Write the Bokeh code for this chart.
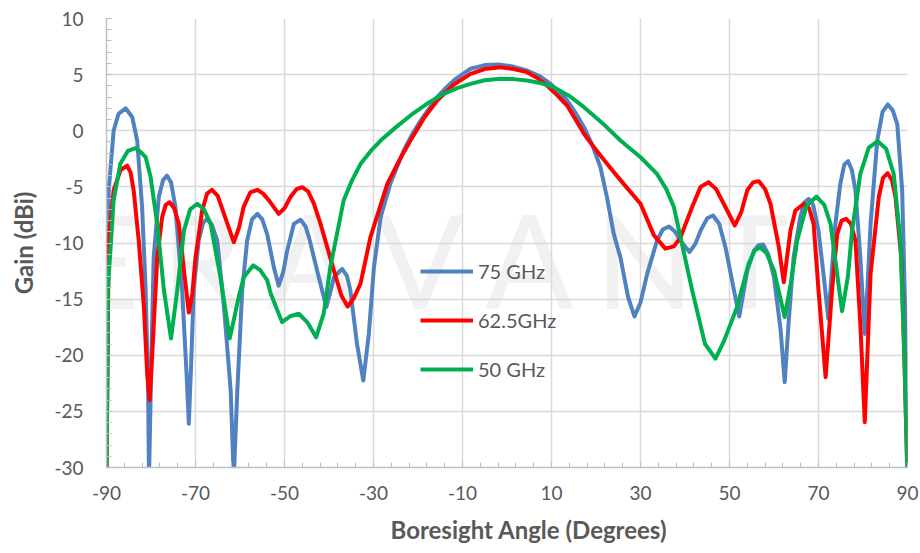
from bokeh.plotting import figure
from bokeh.models import Range1d, FixedTicker, Legend, LegendItem, Label, Title
from bokeh.embed import file_html
from bokeh.resources import INLINE

# ---- data ----
angle_75 = [-90, -89.7, -89.5, -88.4, -87.3, -85.7, -84.2, -83.1, -82.0, -81.2, -80.65, -80.45,
            -79.9, -79.4, -78.25, -77.3, -76.4, -75.5, -74.5, -73.0, -72.0, -71.5, -71.0, -70.4,
            -69.3, -68.3, -67.4, -66.3, -65.1, -63.6, -62.1, -61.4, -60.6, -59.5, -58.4, -57.3,
            -56.1, -55.0, -53.9, -52.4, -51.3, -50.3, -49.4, -47.9, -46.4, -45.3, -44.5, -42.3,
            -40.6, -39.6, -38.9, -37.05, -36.0, -35.2, -33.7, -32.3, -31.05, -29.9, -28.4, -26.2,
            -23.2, -21.3, -19.4, -17.5, -15.7, -13.8, -11.95, -10.0, -8.2, -5.0, -2.0, 1.0, 4.5,
            7.2, 9.8, 11.6, 13.5, 15.4, 17.3, 19.2, 21.0, 22.5, 24.0,
            25.5, 27.2, 28.65, 30.0, 31.5, 33.7, 35.0, 36.4, 37.8, 39.0, 41.0, 42.3, 43.5, 45.0,
            46.3, 47.7, 49.1, 51.0, 52.2, 53.1, 54.0, 55.5, 56.5, 57.55, 58.7, 60.0, 61.5, 62.4,
            63.3, 64.4, 65.9, 66.8, 67.8, 68.8, 70.0, 71.2, 72.2, 73.0, 73.8, 74.9, 75.8, 76.65,
            77.5, 78.3, 79.4, 80.4, 81.0, 81.7, 83.2, 84.4, 85.6, 86.7, 87.7, 88.8, 89.55, 90]
gain_75 = [-31, -17, -5.3, 0.0, 1.5, 2.0, 1.2, -0.9, -6.8, -14.2, -23.1, -31,
           -20, -11.3, -5.9, -4.4, -4.0, -4.6, -6.8, -14.2, -21.7, -26.1, -21, -14.2,
           -9.8, -8.2, -7.85, -8.4, -9.8, -15.7, -23.1, -31, -23.1, -14.2, -9.8, -7.9,
           -7.4, -7.9, -9.2, -12.15, -13.8, -12.6, -10.7, -8.3, -7.93, -8.5, -9.5, -13.05,
           -15.7, -14.2, -13.05, -12.3, -12.9, -14.2, -19.0, -22.25, -18.1, -12.15, -7.7, -4.7,
           -1.76, -0.3, 0.9, 2.0, 2.99, 3.8, 4.48, 5.05, 5.52, 5.85, 5.9, 5.75, 5.37,
           4.9, 4.18, 3.5, 2.7, 1.6, 0.32, -1.3, -3.25, -6.0, -9.2,
           -11.3, -14.8, -16.55, -15.3, -12.75, -9.8, -8.8, -8.53, -9.0, -9.8, -10.8, -10.1, -8.9, -7.8,
           -7.55, -8.3, -10.4, -14.2, -16.55, -14.5, -12.45, -10.7, -10.2, -10.13, -11.0, -13.05, -17.8, -22.4,
           -17, -11.3, -7.7, -6.4, -6.07, -6.6, -8.9, -13.05, -16.75, -12.5, -8.3, -4.73, -3.0, -2.71,
           -3.5, -5.3, -11.3, -18.1, -14, -8.3, -0.87, 1.7, 2.34, 1.8, 0.6, -5.3, -17.2, -31]

angle_62 = [-90, -89.7, -89.5, -88.4, -86.85, -85.35, -84.6, -83.9, -82.75, -81.6, -80.85, -80.3,
            -79.75, -78.6, -77.5, -76.7, -75.8, -74.8, -73.75, -72.5, -71.5, -70.7, -70.0, -68.5,
            -67.4, -66.3, -65.0, -63.6, -61.4, -60.2, -59.2, -57.7, -56.1, -54.8, -53.5, -51.3,
            -50.0, -48.65, -47.3, -46.05, -44.7, -43.4, -41.9, -38.9, -37.2, -35.8, -34.4, -32.9,
            -30.7, -26.9, -24.3, -21.7, -18.7, -15.7, -12.0, -8.2, -5.0, -1.5, 1.5, 4.5, 6.8, 9.0,
            11.2, 13.5, 15.4, 17.3, 19.2, 21.0, 23.2, 25.5,
            30.0, 33.0, 35.6, 37.5, 39.0, 41.6, 43.5, 45.3, 47.0, 48.7, 51.2, 52.6, 54.0, 55.3,
            56.6, 58.0, 59.2, 61.1, 62.2, 63.7, 64.8, 66.7, 67.9, 68.9, 70.0, 71.6, 73.05, 74.2,
            75.2, 76.2, 77.3, 78.3, 79.4, 80.4, 81.7, 83.55, 84.5, 85.55, 86.5, 87.3, 88.6, 89.3, 90]
gain_62 = [-31, -17.2, -9.8, -5.3, -3.5, -3.1, -3.7, -5.3, -9.8, -15.7, -21.65, -24.0,
           -20.2, -11.3, -7.7, -6.6, -6.37, -6.9, -8.3, -12.75, -16.2, -14.5, -11.3, -7.1,
           -5.6, -5.26, -5.8, -7.4, -9.93, -8.6, -6.8, -5.5, -5.26, -5.6, -6.2, -7.4,
           -6.9, -5.9, -5.2, -5.03, -5.4, -6.5, -8.3, -12.45, -14.7, -15.66, -14.9, -13.6,
           -9.5, -4.73, -2.7, -0.87, 1.1, 2.7, 4.1, 5.07, 5.5, 5.66, 5.5, 5.22, 4.7, 4.03,
           3.2, 2.25, 1.0, -0.27, -1.3, -2.2, -3.3, -4.4,
           -6.5, -9.3, -10.5, -10.3, -9.5, -6.8, -5.0, -4.58, -5.2, -6.5, -8.44, -7.3, -5.3, -4.6,
           -4.49, -5.2, -6.5, -10.4, -13.5, -8.9, -7.1, -6.5, -6.9, -8.3, -14.2, -21.95, -14.2, -9.2,
           -8.0, -7.85, -8.3, -9.8, -17.2, -25.96, -12.75, -5.9, -4.2, -3.78, -4.4, -5.9, -11.3, -20.2, -31]

angle_50 = [-90, -89.7, -88.4, -86.9, -85.2, -83.5, -82.3, -81.2, -80.1, -78.6, -77.1, -75.5,
            -74.1, -72.6, -71.2, -69.6, -68.1, -66.6, -64.4, -62.3, -61.2, -60.3, -59.15, -57.05,
            -55.5, -53.9, -53.1, -50.55, -48.6, -46.8, -44.8, -42.9, -41.2, -39.7, -36.7, -34.8,
            -32.9, -30.6, -28.4, -25.0, -21.7, -18.0, -14.2, -11.2, -8.2, -5.0, -1.5, 1.5, 4.5,
            7.5, 10.5, 14.0, 17.3, 21.4, 25.5, 30.0, 33.7, 35.8, 37.5, 41.6,
            44.5, 46.85, 48.8, 51.7, 54.3, 55.6, 56.8, 58.3, 60.0, 62.4, 63.8, 65.2, 67.3, 69.55,
            71.3, 72.7, 75.3, 76.6, 77.55, 79.4, 81.3, 83.3, 85.2, 86.9, 88.4, 89.3, 90]
gain_50 = [-31, -14.2, -6.2, -2.95, -1.8, -1.55, -1.9, -2.36, -4.1, -8.3, -14.2, -18.5,
           -14.2, -8.9, -7.0, -6.5, -7.0, -8.3, -13.05, -18.5, -16.5, -14.8, -13.05, -12.0,
           -12.4, -13.3, -14.5, -17.05, -16.5, -16.3, -17.1, -18.4, -16.3, -12.15, -6.2, -4.4,
           -2.95, -1.8, -0.87, 0.3, 1.36, 2.4, 3.29, 3.8, 4.18, 4.5, 4.63, 4.6, 4.48,
           4.25, 3.88, 3.1, 2.1, 0.7, -0.87, -2.36, -3.84, -5.2, -6.8, -14.2,
           -19.0, -20.3, -18.7, -15.7, -11.85, -10.7, -10.37, -10.9, -12.45, -16.6, -13.5, -9.8, -6.7, -5.86,
           -6.6, -8.3, -16.07, -13.0, -8.9, -3.84, -1.5, -0.93, -1.6, -3.84, -9.8, -20.2, -31]

series_names = ["75 GHz", "62.5GHz", "50 GHz"]
series_colors = ["#5081C0", "#FF0000", "#00B050"]

x_ticks = [-90, -70, -50, -30, -10, 10, 30, 50, 70, 90]
x_minor = list(range(-90, 91, 4))
y_ticks = [-30, -25, -20, -15, -10, -5, 0, 5, 10]
y_minor = list(range(-30, 11, 1))

watermark_letters = ["E", "R", "A", "V", "A", "N", "T"]
watermark_x = [-91.0, -68.5, -44.0, -19.5, 5.0, 31.0, 54.5]

FONT = "Lato"
TXT = "#595959"

p = figure(width=920, height=553, x_range=Range1d(-90, 90), y_range=Range1d(-30, 10),
           output_backend="svg", toolbar_location=None,
           min_border_left=106, min_border_right=13, min_border_top=18, min_border_bottom=86)
p.background_fill_color = "white"
p.border_fill_color = "white"
p.outline_line_color = None

# faint watermark
for letter, lx in zip(watermark_letters, watermark_x):
    p.add_layout(Label(x=lx, y=-11.4, text=letter, text_align="center", text_baseline="alphabetic",
                       text_font=FONT, text_font_size="130px", text_color="#f1f1f1", level="image"))

for ax, ticks, minor in ((p.xaxis[0], x_ticks, x_minor), (p.yaxis[0], y_ticks, y_minor)):
    ax.ticker = FixedTicker(ticks=ticks, minor_ticks=minor)
    ax.major_label_overrides = {t: str(t) for t in ticks}
    ax.axis_line_color = "#bfbfbf"
    ax.axis_line_width = 1.5
    ax.major_tick_line_color = "#bfbfbf"
    ax.minor_tick_line_color = "#bfbfbf"
    ax.major_tick_in = 5
    ax.major_tick_out = 0
    ax.minor_tick_in = 5
    ax.minor_tick_out = 0
    ax.major_label_text_font = FONT
    ax.major_label_text_font_size = "19px"
    ax.major_label_text_color = TXT

p.yaxis.major_label_standoff = 23
p.xaxis.major_label_standoff = 18
p.yaxis.axis_label = "Gain (dBi)"
p.yaxis.axis_label_text_font = FONT
p.yaxis.axis_label_text_font_style = "bold"
p.yaxis.axis_label_text_font_size = "24px"
p.yaxis.axis_label_text_color = TXT
p.yaxis.axis_label_standoff = 13

p.xgrid.grid_line_color = "#d9d9d9"
p.ygrid.grid_line_color = "#d9d9d9"
p.xgrid.grid_line_width = 1.5
p.ygrid.grid_line_width = 1.5

xtitle = Title(text="Boresight Angle (Degrees)", align="left", offset=284, standoff=20,
               vertical_align="bottom",
               text_font=FONT, text_font_style="bold", text_font_size="24px", text_color=TXT)
p.add_layout(xtitle, "below")

renderers = []
for xs, ys, c in ((angle_75, gain_75, series_colors[0]), (angle_62, gain_62, series_colors[1]),
                  (angle_50, gain_50, series_colors[2])):
    renderers.append(p.line(xs, ys, line_color=c, line_width=4, line_join="round"))

legend = Legend(items=[LegendItem(label=n, renderers=[r]) for n, r in zip(series_names, renderers)],
                location=(314, 86), orientation="vertical", glyph_width=53, glyph_height=20,
                label_height=20, spacing=25, padding=0, margin=0, label_standoff=5,
                background_fill_alpha=0, border_line_color=None, label_text_font=FONT,
                label_text_font_size="20px", label_text_color=TXT)
p.add_layout(legend)

open("out.html", "w").write(file_html(p, INLINE))
